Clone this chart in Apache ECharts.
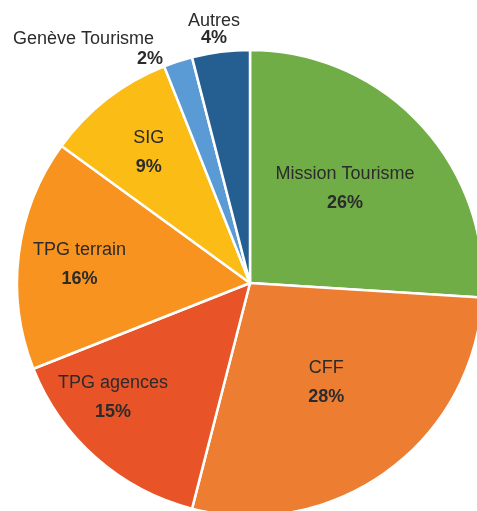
<!DOCTYPE html>
<html>
<head>
<meta charset="utf-8">
<script src="https://cdn.jsdelivr.net/npm/echarts@6/dist/echarts.min.js"></script>
<style>
  html, body { margin: 0; padding: 0; background: #fff; }
  #chart { width: 477px; height: 511px; }
</style>
</head>
<body>
<div id="chart"></div>
<script>
var chartDom = document.getElementById('chart');
var myChart = echarts.init(chartDom);

var names = ['Mission Tourisme', 'CFF', 'TPG agences', 'TPG terrain', 'SIG', 'Genève Tourisme', 'Autres'];
var values = [26, 28, 15, 16, 9, 2, 4];
var colors = ['#70ad47', '#ed7d31', '#e85427', '#f7931e', '#fbbc15', '#5b9bd5', '#255e91'];

// label nudges from the slice middle
var labelOffsets = [[8, -13], [6, 3], [-58, 25], [-52, -3], [-28, -36], [-125, -120], [-21, -135]];

var pieData = [];
for (let i = 0; i < names.length; i++) {
  let item = {
    name: names[i],
    value: values[i],
    itemStyle: { color: colors[i] },
    label: { offset: labelOffsets[i] }
  };
  if (names[i] === 'Genève Tourisme') {
    item.label.formatter = '{n2|{b}}\n{g|{c}%}';
  } else if (names[i] === 'Autres') {
    item.label.formatter = '{s|{b}}\n{q|{c}%}';
  }
  pieData.push(item);
}

var font = 'Liberation Sans';
var option = {
  animation: false,
  series: [
    {
      type: 'pie',
      center: [250, 283],
      radius: [0, 233],
      startAngle: 90,
      clockwise: true,
      avoidLabelOverlap: false,
      itemStyle: {
        borderColor: '#fff',
        borderWidth: 2.5
      },
      label: {
        show: true,
        position: 'inside',
        formatter: '{n|{b}}\n{p|{c}%}',
        fontFamily: font,
        color: '#2b2b2b',
        rich: {
          n: { fontSize: 18, fontFamily: font, color: '#2b2b2b', lineHeight: 29 },
          p: { fontSize: 18, fontFamily: font, fontWeight: 'bold', color: '#2b2b2b', lineHeight: 29 },
          n2: { fontSize: 18, fontFamily: font, color: '#2b2b2b', lineHeight: 20, align: 'left' },
          g: { fontSize: 18, fontFamily: font, fontWeight: 'bold', color: '#2b2b2b', lineHeight: 20, align: 'left', padding: [0, 0, 0, 124] },
          s: { fontSize: 18, fontFamily: font, color: '#2b2b2b', lineHeight: 17 },
          q: { fontSize: 18, fontFamily: font, fontWeight: 'bold', color: '#2b2b2b', lineHeight: 17 }
        }
      },
      labelLine: { show: false },
      data: pieData
    }
  ]
};

option && myChart.setOption(option);
</script>
</body>
</html>
